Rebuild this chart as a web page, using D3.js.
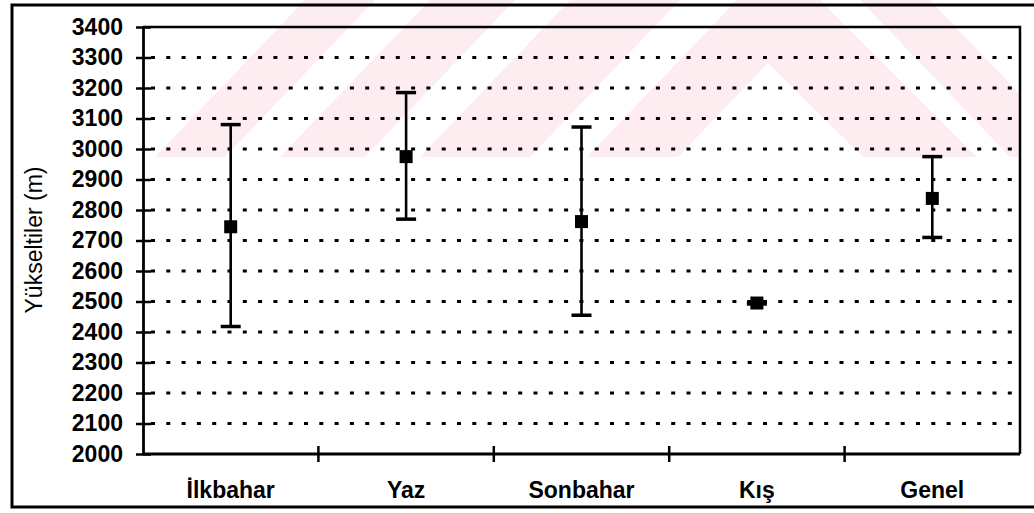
<!DOCTYPE html>
<html>
<head>
<meta charset="utf-8">
<script src="https://cdn.jsdelivr.net/npm/d3@7"></script>
<style>
  body { margin: 0; background: #fff; }
  svg { display: block; }
  text { font-family: Arial, "Liberation Sans", sans-serif; fill: #000; }
</style>
</head>
<body>
<div class="chart"></div>
<script>
// season categories and elevation stats (m)
let categories = ['İlkbahar', 'Yaz', 'Sonbahar', 'Kış', 'Genel'];
let means = [2745, 2975, 2762, 2495, 2838];
let lows = [2418, 2770, 2455, 2492, 2710];
let highs = [3080, 3185, 3072, 2498, 2975];
let yTicks = [2000, 2100, 2200, 2300, 2400, 2500, 2600, 2700, 2800, 2900, 3000, 3100, 3200, 3300, 3400];

let W = 1034, H = 513;
let svg = d3.select('.chart')
  .append('svg')
  .attr('width', W)
  .attr('height', H);

// faint watermark behind the chart
let pink = '#feedf0';
let marks = [
  [[155, 157], [225, 157], [375, 0], [305, 0]],
  [[280, 157], [365, 157], [515, 0], [430, 0]],
  [[420, 157], [530, 157], [680, 0], [570, 0]],
  [[587, 157], [737, 0], [820, 0], [977, 157], [863, 157], [768, 63], [678, 157]],
  [[860, 0], [930, 0], [1080, 157], [1010, 157]]
];
svg.append('clipPath').attr('id', 'wm')
  .append('rect').attr('x', 0).attr('y', 0).attr('width', 1020).attr('height', 157);
svg.append('g')
  .attr('clip-path', 'url(#wm)')
  .selectAll('polygon')
  .data(marks)
.enter().append('polygon')
  .attr('points', function(d) { return d.map(function(p) { return p.join(','); }).join(' '); })
  .style('fill', pink);

// outer chart border (right side runs off the picture)
svg.append('rect')
  .attr('x', 12).attr('y', 5)
  .attr('width', 1040).attr('height', 502)
  .style('fill', 'none')
  .style('stroke', '#000')
  .style('stroke-width', 3);

let pLeft = 143, pRight = 1020, pTop = 27, pBottom = 454;

let x = d3.scaleBand()
  .domain(categories)
  .range([pLeft, pRight]);
let y = d3.scaleLinear()
  .domain([2000, 3400])
  .range([pBottom, pTop]);

// dotted gridlines
svg.append('g')
  .selectAll('line')
  .data(yTicks.slice(1, -1))
.enter().append('line')
  .attr('x1', pLeft + 8).attr('x2', pRight - 8)
  .attr('y1', function(d) { return y(d); })
  .attr('y2', function(d) { return y(d); })
  .style('stroke', '#000')
  .style('stroke-width', 2.8)
  .style('stroke-dasharray', '4 11.3');

// plot frame: top and right solid
svg.append('path')
  .attr('d', 'M' + pLeft + ',' + y(3400) + 'H' + pRight + 'V' + y(2000))
  .style('fill', 'none')
  .style('stroke', '#000')
  .style('stroke-width', 2.5);

// y axis
let yAxis = svg.append('g')
  .attr('transform', 'translate(' + pLeft + ',0)')
  .call(d3.axisLeft(y).tickValues(yTicks).tickSize(0).tickPadding(20).tickFormat(d3.format('d')));
yAxis.select('.domain').style('stroke', '#000').style('stroke-width', 2.8);
yAxis.selectAll('.tick text')
  .style('font-size', '23px')
  .style('font-weight', 'bold');
yAxis.selectAll('.tick').append('line')
  .attr('x1', -7).attr('x2', 8)
  .style('stroke', '#000')
  .style('stroke-width', 2.5);

// x axis with ticks between categories
let xAxis = svg.append('g')
  .attr('transform', 'translate(0,' + pBottom + ')');
xAxis.append('line')
  .attr('x1', pLeft).attr('x2', pRight)
  .style('stroke', '#000')
  .style('stroke-width', 2.8);
xAxis.selectAll('.sep')
  .data(categories.slice(1))
.enter().append('line')
  .attr('class', 'sep')
  .attr('x1', function(d) { return x(d); })
  .attr('x2', function(d) { return x(d); })
  .attr('y1', -8).attr('y2', 8)
  .style('stroke', '#000')
  .style('stroke-width', 2.5);
xAxis.selectAll('text')
  .data(categories)
.enter().append('text')
  .attr('x', function(d) { return x(d) + x.bandwidth() / 2; })
  .attr('y', 44)
  .attr('text-anchor', 'middle')
  .style('font-size', '23px')
  .style('font-weight', 'bold')
  .text(function(d) { return d; });

svg.append('text')
  .attr('transform', 'translate(42,240) rotate(-90)')
  .attr('text-anchor', 'middle')
  .style('font-size', '23px')
  .text('Yükseltiler (m)');

// error bars + mean markers
let data = categories.map(function(c, i) {
  return {cat: c, mean: means[i], lo: lows[i], hi: highs[i]};
});
let cx = function(d) { return x(d.cat) + x.bandwidth() / 2; };

let bars = svg.append('g');
bars.selectAll('.whisker')
  .data(data)
.enter().append('line')
  .attr('class', 'whisker')
  .attr('x1', cx).attr('x2', cx)
  .attr('y1', function(d) { return y(d.lo); })
  .attr('y2', function(d) { return y(d.hi); })
  .style('stroke', '#000')
  .style('stroke-width', 2.6);
['lo', 'hi'].forEach(function(k) {
  bars.selectAll('.cap-' + k)
    .data(data)
  .enter().append('line')
    .attr('class', 'cap-' + k)
    .attr('x1', function(d) { return cx(d) - 10; })
    .attr('x2', function(d) { return cx(d) + 10; })
    .attr('y1', function(d) { return y(d[k]); })
    .attr('y2', function(d) { return y(d[k]); })
    .style('stroke', '#000')
    .style('stroke-width', 3.5);
});
bars.selectAll('rect')
  .data(data)
.enter().append('rect')
  .attr('x', function(d) { return cx(d) - 6.5; })
  .attr('y', function(d) { return y(d.mean) - 6.5; })
  .attr('width', 13).attr('height', 13)
  .style('fill', '#000');
</script>
</body>
</html>
